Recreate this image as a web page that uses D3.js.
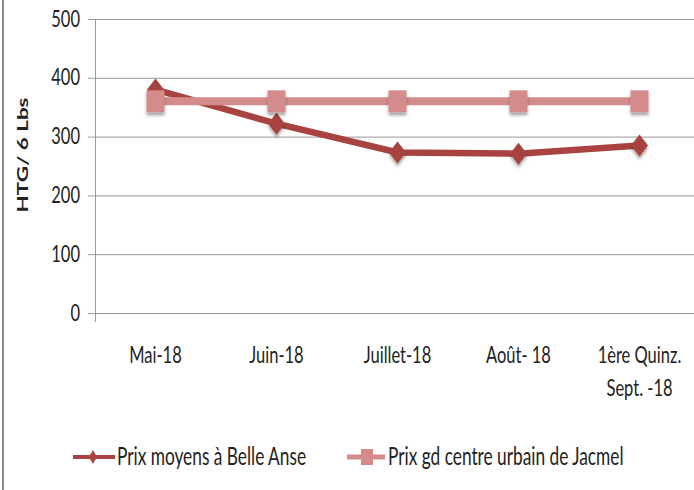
<!DOCTYPE html>
<meta charset="utf-8">
<head>
<script src="https://cdn.jsdelivr.net/npm/d3@7"></script>
<style>
body { margin: 0; background: #fff; }
text { font-family: Lato, "Open Sans", sans-serif; fill: #222; font-size: 16.5px; }
.legende text { font-size: 17.3px; }
</style>
</head>
<body>
<script>

// donnees
var mois = ["Mai-18", "Juin-18", "Juillet-18", "Août- 18", "1ère Quinz.|Sept. -18"];
var belleAnse = [380, 322, 273, 271, 285];
var jacmel = [360, 360, 360, 360, 360];
var yTicks = [0, 100, 200, 300, 400, 500];

var width = 694, height = 490;
var colFonce = "#A84341", colClair = "#D38C8B";
var etire = 1.4; // texte etire verticalement comme dans l'image

var svg = d3.select("body").append("svg")
    .attr("width", width)
    .attr("height", height);

// texte etire
function texte(g, x, y, s, ancre) {
  return g.append("text")
    .attr("transform", "translate(" + x + "," + y + ") scale(1," + etire + ")")
    .attr("text-anchor", ancre || "start")
    .text(s);
}

// ombre des marqueurs
var defs = svg.append("defs");
defs.append("filter").attr("id", "ombre")
    .attr("x", "-50%").attr("y", "-50%").attr("width", "200%").attr("height", "200%")
  .append("feDropShadow")
    .attr("dx", 0).attr("dy", 3).attr("stdDeviation", 1.8)
    .attr("flood-color", "#000").attr("flood-opacity", 0.35);

// bordure du graphique
svg.append("line")
    .attr("x1", 3).attr("x2", 3).attr("y1", 0).attr("y2", height)
    .attr("stroke", "#888").attr("stroke-width", 2);

var x = d3.scaleBand().domain(mois).range([95, 700]);
var y = d3.scaleLinear().domain([0, 500]).range([313, 19]);

// grille
svg.append("g")
  .selectAll("line").data(yTicks).enter().append("line")
    .attr("x1", 88).attr("x2", width)
    .attr("y1", function(d) { return y(d) + 0.5; })
    .attr("y2", function(d) { return y(d) + 0.5; })
    .attr("stroke", "#9a9a9a").attr("stroke-width", 1);

// axe Y
svg.append("line")
    .attr("x1", 95.5).attr("x2", 95.5).attr("y1", y(500)).attr("y2", 322)
    .attr("stroke", "#9a9a9a");
var axeY = svg.append("g");
yTicks.forEach(function(t) {
  texte(axeY, 80, y(t) + 7.5, d3.format("d")(t), "end");
});

// axe X (etiquettes)
var axeX = svg.append("g");
mois.forEach(function(d) {
  var cxm = x(d) + x.bandwidth() / 2;
  d.split("|").forEach(function(l, i) {
    texte(axeX, cxm, 363 + i * 33, l, "middle");
  });
});

// titre axe Y
svg.append("text")
    .attr("transform", "translate(28,155) rotate(-90) scale(1.4,1)")
    .attr("text-anchor", "middle")
    .style("font-weight", "bold")
    .style("font-size", "16px")
    .text("HTG/ 6 Lbs");

var cx = function(d, i) { return x(mois[i]) + x.bandwidth() / 2; };
var ligne = d3.line().x(cx).y(function(d) { return y(d); });

var diamant = "M0,-11L8.5,0L0,11L-8.5,0Z";

// serie Belle Anse
svg.append("path").datum(belleAnse)
    .attr("d", ligne)
    .attr("fill", "none").attr("stroke", colFonce).attr("stroke-width", 6.5);
svg.append("g").selectAll("path").data(belleAnse).enter().append("path")
    .attr("d", diamant)
    .attr("transform", function(d, i) { return "translate(" + cx(d, i) + "," + y(d) + ")"; })
    .attr("fill", colFonce)
    .attr("filter", "url(#ombre)");

// serie Jacmel
svg.append("path").datum(jacmel)
    .attr("d", ligne)
    .attr("fill", "none").attr("stroke", colClair).attr("stroke-width", 8);
svg.append("g").selectAll("rect").data(jacmel).enter().append("rect")
    .attr("x", function(d, i) { return cx(d, i) - 9; })
    .attr("y", function(d) { return y(d) - 11; })
    .attr("width", 18).attr("height", 22)
    .attr("fill", colClair)
    .attr("filter", "url(#ombre)");

// legende
var leg = svg.append("g").attr("class", "legende");
leg.append("line").attr("x1", 73).attr("x2", 115).attr("y1", 457).attr("y2", 457)
    .attr("stroke", colFonce).attr("stroke-width", 4);
leg.append("path").attr("d", "M0,-7L4,0L0,7L-4,0Z")
    .attr("transform", "translate(93,457)").attr("fill", colFonce);
texte(leg, 117, 465, "Prix moyens à Belle Anse");

leg.append("line").attr("x1", 347).attr("x2", 385).attr("y1", 457).attr("y2", 457)
    .attr("stroke", colClair).attr("stroke-width", 5);
leg.append("rect").attr("x", 361).attr("y", 449).attr("width", 12).attr("height", 16)
    .attr("fill", colClair);
texte(leg, 388, 465, "Prix gd centre urbain de Jacmel");

</script>
</body>
